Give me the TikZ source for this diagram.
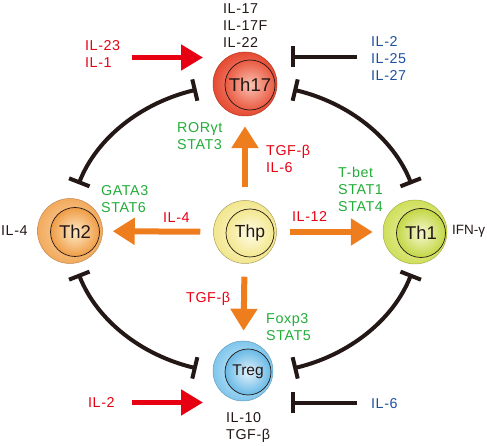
\documentclass[tikz,border=0pt]{standalone}
\usepackage{fontspec}
\setmainfont{Liberation Sans}
\newfontfamily\lblfont[LetterSpace=4]{Liberation Sans}
\usetikzlibrary{arrows.meta,calc}
\definecolor{tred}{HTML}{E60012}
\definecolor{tgreen}{HTML}{22AC38}
\definecolor{tblue}{HTML}{1E50A2}
\definecolor{tblack}{HTML}{231815}
\definecolor{torange}{HTML}{EE7D1E}
% cell colours
\definecolor{aO1}{HTML}{F5A08C}\definecolor{aO2}{HTML}{E64A32}
\definecolor{aI1}{HTML}{F9C2B2}\definecolor{aI2}{HTML}{EA5A42}
\definecolor{bO1}{HTML}{FBD9A8}\definecolor{bO2}{HTML}{F2AA5E}
\definecolor{bI1}{HTML}{FDEBC8}\definecolor{bI2}{HTML}{EF9C45}
\definecolor{cO1}{HTML}{FFF9D8}\definecolor{cO2}{HTML}{F2E68E}
\definecolor{cI1}{HTML}{FFFCE8}\definecolor{cI2}{HTML}{F3E78F}
\definecolor{dO1}{HTML}{EEF3B8}\definecolor{dO2}{HTML}{CFDF5A}
\definecolor{dI1}{HTML}{F5F8D0}\definecolor{dI2}{HTML}{C2D744}
\definecolor{eO1}{HTML}{D6EEFA}\definecolor{eO2}{HTML}{80C6EC}
\definecolor{eI1}{HTML}{E4F3FC}\definecolor{eI2}{HTML}{68B9E6}
\pgfdeclareradialshading{shaO}{\pgfpoint{0bp}{0bp}}{color(0bp)=(aO1); color(25bp)=(aO2); color(50bp)=(aO2)}
\pgfdeclareradialshading{shaI}{\pgfpoint{0bp}{0bp}}{color(0bp)=(aI1); color(25bp)=(aI2); color(50bp)=(aI2)}
\pgfdeclareradialshading{shbO}{\pgfpoint{0bp}{0bp}}{color(0bp)=(bO1); color(25bp)=(bO2); color(50bp)=(bO2)}
\pgfdeclareradialshading{shbI}{\pgfpoint{0bp}{0bp}}{color(0bp)=(bI1); color(25bp)=(bI2); color(50bp)=(bI2)}
\pgfdeclareradialshading{shcO}{\pgfpoint{0bp}{0bp}}{color(0bp)=(cO1); color(25bp)=(cO2); color(50bp)=(cO2)}
\pgfdeclareradialshading{shcI}{\pgfpoint{0bp}{0bp}}{color(0bp)=(cI1); color(25bp)=(cI2); color(50bp)=(cI2)}
\pgfdeclareradialshading{shdO}{\pgfpoint{0bp}{0bp}}{color(0bp)=(dO1); color(25bp)=(dO2); color(50bp)=(dO2)}
\pgfdeclareradialshading{shdI}{\pgfpoint{0bp}{0bp}}{color(0bp)=(dI1); color(25bp)=(dI2); color(50bp)=(dI2)}
\pgfdeclareradialshading{sheO}{\pgfpoint{0bp}{0bp}}{color(0bp)=(eO1); color(25bp)=(eO2); color(50bp)=(eO2)}
\pgfdeclareradialshading{sheI}{\pgfpoint{0bp}{0bp}}{color(0bp)=(eI1); color(25bp)=(eI2); color(50bp)=(eI2)}
\begin{document}
\begin{tikzpicture}[x=1pt,y=1pt,
  outercell/.style={circle, inner sep=0pt, shade, draw=#1, line width=0.5pt},
  innercell/.style={circle, inner sep=0pt, shade, draw=tblack, line width=0.7pt, text=tblack},
  lbl/.style={anchor=north west, inner sep=0pt, align=left, font=\lblfont\fontsize{14.3}{17}\selectfont},
  oarrow/.style={draw=torange, line width=6pt, -{Triangle[length=22pt,width=26pt]}, shorten <=13pt, shorten >=10pt},
  rarrow/.style={draw=tred, line width=5pt, -{Triangle[length=22pt,width=25pt]}},
  inhib/.style={draw=tblack, line width=4pt, -{Bar[width=21pt]}},
  mutual/.style={draw=tblack, line width=4pt, {Bar[width=22pt]}-{Bar[width=22pt]}}
]
\useasboundingbox (0,0) rectangle (487,446);
% cells
\node[outercell=aO2!80!black, shading=shaO, minimum size=64pt] (th17o) at (245,362) {};
\node[innercell, shading=shaI, minimum size=50pt, font=\fontsize{18.5}{18}\selectfont] (th17) at (250,361) {Th17};
\node[outercell=bO2!80!black, shading=shbO, minimum size=65pt] (th2o) at (70,215) {};
\node[innercell, shading=shbI, minimum size=49pt, font=\fontsize{18.5}{18}\selectfont] (th2) at (75,214) {Th2};
\node[outercell=cO2!70!black, shading=shcO, minimum size=63pt] (thpo) at (245,214) {};
\node[innercell, shading=shcI, minimum size=48pt, font=\fontsize{17.5}{17}\selectfont] (thp) at (250,213) {Thp};
\node[outercell=dO2!80!black, shading=shdO, minimum size=64pt] (th1o) at (415,214) {};
\node[innercell, shading=shdI, minimum size=49pt, font=\fontsize{18.5}{18}\selectfont] (th1) at (421,213) {Th1};
\node[outercell=eO2!80!black, shading=sheO, minimum size=60pt] (trego) at (243,75) {};
\node[innercell, shading=sheI, minimum size=46pt, font=\fontsize{15.5}{15}\selectfont] (treg) at (248,74) {Treg};
% orange differentiation arrows
\draw[oarrow] (thpo) -- (th17o);
\draw[oarrow] (thpo) -- (th2o);
\draw[oarrow] (thpo) -- (th1o);
\draw[oarrow] (thpo) -- (trego);
% external signals
\coordinate (r1s) at (132,388.5); \coordinate (r1e) at (203,388.5);
\draw[rarrow] (r1s) -- (r1e);
\coordinate (r2s) at (132,43.5); \coordinate (r2e) at (203,43.5);
\draw[rarrow] (r2s) -- (r2e);
\coordinate (b1s) at (357,389); \coordinate (b1e) at (291,389);
\draw[inhib] (b1s) -- (b1e);
\coordinate (b2s) at (357,43); \coordinate (b2e) at (291,43);
\draw[inhib] (b2s) -- (b2e);
% mutual inhibition arcs
\coordinate (ec) at (245,217);
\draw[mutual] ($(ec)+(106:175pt and 145pt)$) arc[start angle=106, end angle=162, x radius=175pt, y radius=145pt];
\draw[mutual] ($(ec)+(74:175pt and 145pt)$) arc[start angle=74, end angle=18, x radius=175pt, y radius=145pt];
\draw[mutual] ($(ec)+(198:175pt and 145pt)$) arc[start angle=198, end angle=254, x radius=175pt, y radius=145pt];
\draw[mutual] ($(ec)+(342:175pt and 145pt)$) arc[start angle=342, end angle=286, x radius=175pt, y radius=145pt];
% labels
\node[lbl, text=tblack] (t17) at (223,443) {IL-17\\IL-17F\\IL-22};
\node[lbl, text=tred] (t23) at (85,406) {IL-23\\IL-1};
\node[lbl, text=tblue] (t25) at (371,410) {IL-2\\IL-25\\IL-27};
\node[lbl, text=tgreen] (tror) at (177,324) {RORγt\\STAT3};
\node[lbl, text=tred] (ttgf1) at (266,301) {TGF-β\\IL-6};
\node[lbl, text=tgreen] (tgata) at (101,261) {GATA3\\STAT6};
\node[lbl, text=tblack] (til4) at (1,221) {IL-4};
\node[lbl, text=tred] (til4r) at (163,234) {IL-4};
\node[lbl, text=tred] (til12) at (292,235) {IL-12};
\node[lbl, text=tgreen] (ttbet) at (338,279) {T-bet\\STAT1\\STAT4};
\node[lbl, text=tblack, font=\fontsize{13.5}{17}\selectfont] (tifn) at (452,221) {IFN-γ};
\node[lbl, text=tred] (ttgf2) at (186,154) {TGF-β};
\node[lbl, text=tgreen] (tfox) at (266,133) {Foxp3\\STAT5};
\node[lbl, text=tblack] (til10) at (226,34) {IL-10\\TGF-β};
\node[lbl, text=tred] (til2) at (88,49) {IL-2};
\node[lbl, text=tblue] (til6) at (371,48) {IL-6};
\end{tikzpicture}
\end{document}
